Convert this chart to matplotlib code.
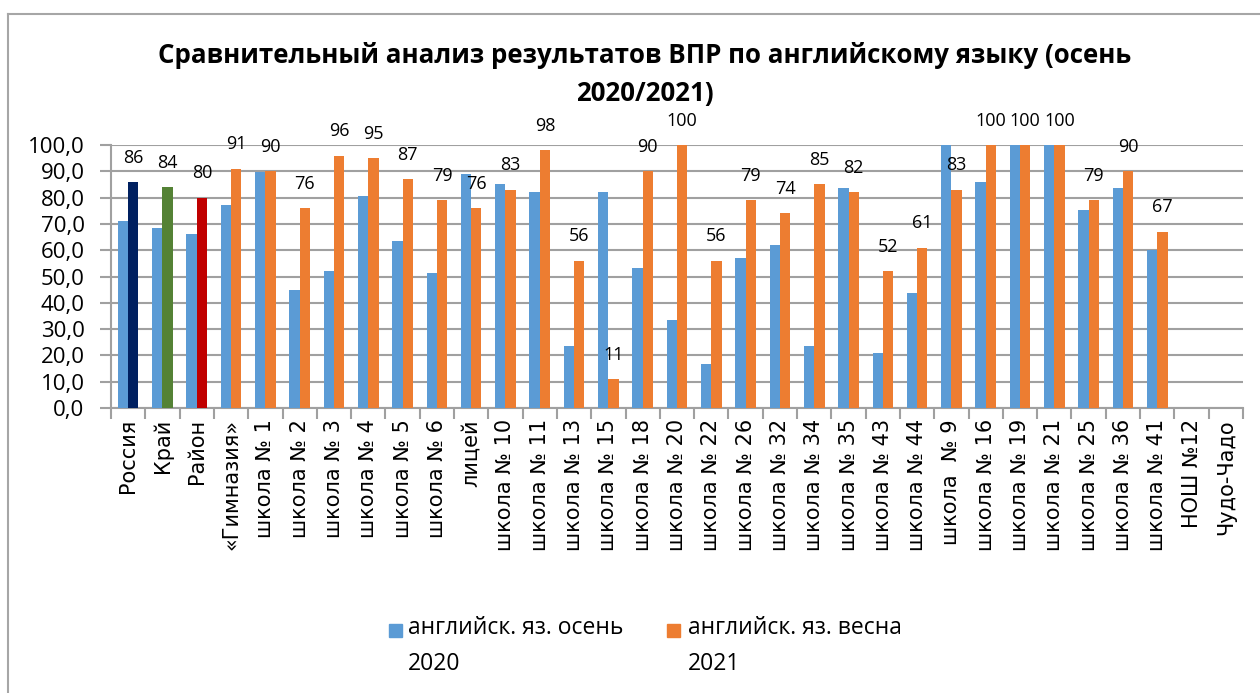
import matplotlib
matplotlib.use("Agg")
import matplotlib.pyplot as plt
from matplotlib.patches import Rectangle
from matplotlib.lines import Line2D
from matplotlib.ticker import FixedLocator, FuncFormatter
import numpy as np

plt.rcParams['font.family'] = ['Open Sans', 'DejaVu Sans']

categories = ["Россия", "Край", "Район", "«Гимназия»", "школа № 1", "школа № 2",
              "школа № 3", "школа № 4", "школа № 5", "школа № 6", "лицей",
              "школа № 10", "школа № 11", "школа № 13", "школа № 15", "школа № 18",
              "школа № 20", "школа № 22", "школа № 26", "школа № 32", "школа № 34",
              "школа № 35", "школа № 43", "школа № 44", "школа  № 9", "школа № 16",
              "школа № 19", "школа № 21", "школа № 25", "школа № 36", "школа № 41",
              "НОШ №12", "Чудо-Чадо"]

autumn_2020 = [71.1, 68.3, 66.1, 77.1, 89.8, 44.8, 52.1, 80.6, 63.6, 51.5, 89.1,
               85.0, 82.1, 23.5, 82.2, 53.3, 33.3, 16.7, 57.1, 62.1, 23.4,
               83.5, 21.0, 43.9, 100.0, 85.9, 100.0, 100.0, 75.1, 83.5, 60.1,
               np.nan, np.nan]
spring_2021 = [86, 84, 80, 91, 90, 76, 96, 95, 87, 79, 76,
               83, 98, 56, 11, 90, 100, 56, 79, 74, 85,
               82, 52, 61, 83, 100, 100, 100, 79, 90, 67,
               np.nan, np.nan]

series_names = ["английск. яз. осень\n2020", "английск. яз. весна\n2021"]
title = "Сравнительный анализ результатов ВПР по английскому языку (осень\n2020/2021)"

c_blue = "#5B9BD5"
c_orange = "#ED7D31"
special_colors = {0: "#002060", 1: "#548235", 2: "#C00000"}
grid_c = "#A0A0A0"

W, H = 1260, 693
fig = plt.figure(figsize=(W / 100, H / 100), dpi=100)
ax = fig.add_axes([111 / W, 1 - 408 / H, (1243 - 111) / W, (408 - 145) / H])

n = len(categories)
x = np.arange(n)
bw = 0.3
a = np.array(autumn_2020, dtype=float)
s = np.array(spring_2021, dtype=float)
ax.bar(x - bw / 2, np.nan_to_num(a), width=bw, color=c_blue, zorder=3)
cols = [special_colors.get(i, c_orange) for i in range(n)]
ax.bar(x + bw / 2, np.nan_to_num(s), width=bw, color=cols, zorder=3)

for i in range(n):
    if not np.isnan(s[i]):
        ax.annotate(f"{s[i]:.0f}", (x[i] + bw / 2, s[i]), xytext=(0, 17.5),
                    textcoords="offset points", ha="center", va="center",
                    fontsize=13, color="#000000", annotation_clip=False)

ax.set_xlim(-0.5, n - 0.5)
ax.set_ylim(0, 100)
ax.yaxis.set_major_locator(FixedLocator(np.arange(0, 101, 10)))
ax.yaxis.set_major_formatter(FuncFormatter(lambda v, p: f"{v:.1f}".replace(".", ",")))
ax.grid(axis="y", color=grid_c, linewidth=1.5, zorder=0)
for side in ["top", "right"]:
    ax.spines[side].set_visible(False)
for side in ["left", "bottom"]:
    ax.spines[side].set_color(grid_c)
    ax.spines[side].set_linewidth(1.5)
ax.tick_params(axis="y", length=8, width=1.5, color=grid_c, labelsize=16, pad=11)

ax.set_xticks(x)
ax.set_xticklabels(categories, rotation=90, fontsize=15, va="top", ha="center",
                   family=["DejaVu Sans"])
ax.tick_params(axis="x", which="major", length=0, pad=8)
ax.set_xticks(np.arange(-0.5, n, 1), minor=True)
ax.tick_params(axis="x", which="minor", length=8, width=1.5, color=grid_c)

fig.text(645 / W, 1 - 42 / H, title, ha="center", va="top", fontsize=18.6,
         fontweight="bold", linespacing=1.5)

# legend (handle aligned with the first line of each two-line label)
leg_items = [(389, 408, c_blue, series_names[0]), (667, 688, c_orange, series_names[1])]
for sx, tx, col, lab in leg_items:
    fig.add_artist(Rectangle((sx / W, 1 - 637 / H), 13 / W, 13 / H,
                             transform=fig.transFigure, color=col))
    fig.text(tx / W, 1 - 616 / H, lab, ha="left", va="top", fontsize=16.5,
             linespacing=1.65)

fig.add_artist(Line2D([8 / W, 8 / W], [0, 1 - 13.5 / H], transform=fig.transFigure,
                      color="#A6A6A6", linewidth=1.5))
fig.add_artist(Line2D([8 / W, 1], [1 - 13.5 / H, 1 - 13.5 / H], transform=fig.transFigure,
                      color="#A6A6A6", linewidth=1.5))

fig.savefig("out.png", dpi=100, facecolor="white")
